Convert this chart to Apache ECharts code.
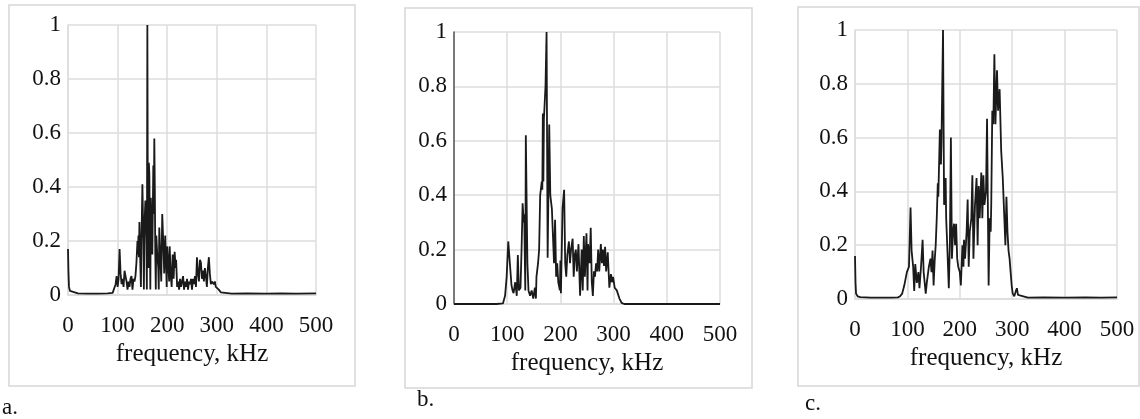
<!DOCTYPE html>
<html>
<head>
<meta charset="utf-8">
<script src="https://cdn.jsdelivr.net/npm/echarts@6/dist/echarts.min.js"></script>
<style>
  html, body { margin: 0; padding: 0; background: #fff; }
  #chart { width: 1140px; height: 419px; }
</style>
</head>
<body>
<div id="chart"></div>
<script>
// x ticks and y ticks shared by the three spectra
const freqTicks = [0, 100, 200, 300, 400, 500];
const ampTicks = [0, 0.2, 0.4, 0.6, 0.8, 1];
const panelLabels = ["a.", "b.", "c."];

// spectrum a: [frequency kHz, normalised amplitude]
const spectrumA = [
  [0, 0.17], [1, 0.08], [2, 0.03], [4, 0.015], [8, 0.01], [20, 0.006], [40, 0.005], [60, 0.005],
  [80, 0.006], [90, 0.008], [94, 0.015], [96, 0.04], [98, 0.07], [100, 0.03], [102, 0.06], [104, 0.17],
  [106, 0.08], [108, 0.04], [110, 0.06], [112, 0.03], [114, 0.09], [116, 0.07], [118, 0.05], [120, 0.02],
  [122, 0.05], [124, 0.03], [126, 0.06], [128, 0.07], [130, 0.02], [132, 0.06], [134, 0.05], [136, 0.07],
  [138, 0.12], [140, 0.2], [141, 0.15], [142, 0.22], [143, 0.14], [144, 0.27], [146, 0.1], [147, 0.03],
  [148, 0.2], [149, 0.3], [150, 0.41], [152, 0.2], [153, 0.02], [154, 0.25], [156, 0.35], [158, 0.2],
  [159, 0.02], [160, 1.0], [161, 0.3], [162, 0.1], [163, 0.49], [164, 0.45], [165, 0.25], [166, 0.02],
  [167, 0.36], [168, 0.3], [170, 0.15], [172, 0.48], [173, 0.3], [174, 0.58], [175, 0.4], [176, 0.15],
  [177, 0.02], [178, 0.22], [180, 0.15], [182, 0.1], [183, 0.02], [184, 0.25], [186, 0.15], [188, 0.05],
  [190, 0.3], [192, 0.2], [194, 0.08], [196, 0.22], [198, 0.1], [199, 0.03], [200, 0.18], [202, 0.12],
  [204, 0.05], [205, 0.18], [207, 0.08], [209, 0.03], [211, 0.15], [213, 0.06], [215, 0.16], [217, 0.1],
  [218, 0.13], [220, 0.03], [222, 0.05], [224, 0.02], [226, 0.06], [228, 0.03], [230, 0.05], [232, 0.07],
  [234, 0.02], [236, 0.05], [238, 0.03], [240, 0.06], [242, 0.02], [244, 0.05], [246, 0.04], [248, 0.06],
  [250, 0.02], [252, 0.06], [254, 0.04], [256, 0.07], [258, 0.03], [260, 0.14], [262, 0.08], [264, 0.05],
  [266, 0.13], [268, 0.12], [270, 0.06], [272, 0.09], [274, 0.05], [276, 0.1], [278, 0.07], [280, 0.03],
  [282, 0.1], [284, 0.14], [286, 0.08], [288, 0.04], [290, 0.05], [292, 0.05], [294, 0.04], [296, 0.05],
  [298, 0.03], [300, 0.03], [304, 0.02], [308, 0.01], [312, 0.006], [330, 0.005], [360, 0.006],
  [400, 0.005], [430, 0.006], [460, 0.005], [500, 0.006]
];

// spectrum b
const spectrumB = [
  [0, 0], [40, 0], [80, 0], [92, 0.002], [96, 0.03], [99, 0.1], [102, 0.23], [105, 0.15], [108, 0.07],
  [110, 0.05], [112, 0.04], [115, 0.08], [118, 0.03], [120, 0.18], [122, 0.05], [125, 0.06], [127, 0.2],
  [129, 0.37], [131, 0.3], [132, 0.33], [134, 0.05], [135, 0.62], [137, 0.3], [138, 0.15], [140, 0.05],
  [143, 0.03], [146, 0.05], [149, 0.02], [152, 0.06], [154, 0.02], [155, 0.1], [158, 0.15], [160, 0.2],
  [162, 0.4], [165, 0.45], [166, 0.42], [167, 0.7], [168, 0.45], [169, 0.68], [172, 0.8], [174, 1.0],
  [176, 0.17], [179, 0.66], [181, 0.4], [184, 0.35], [186, 0.25], [188, 0.15], [190, 0.31], [192, 0.1],
  [194, 0.15], [196, 0.08], [199, 0.05], [200, 0.16], [201, 0.04], [204, 0.35], [207, 0.42], [209, 0.15],
  [211, 0.1], [213, 0.18], [216, 0.23], [218, 0.15], [220, 0.2], [223, 0.24], [225, 0.1], [227, 0.18],
  [229, 0.2], [231, 0.12], [234, 0.22], [237, 0.03], [240, 0.2], [242, 0.05], [244, 0.25], [246, 0.1],
  [249, 0.26], [251, 0.05], [252, 0.22], [255, 0.15], [257, 0.28], [259, 0.08], [261, 0.03], [263, 0.12],
  [265, 0.1], [267, 0.15], [269, 0.12], [271, 0.2], [273, 0.12], [276, 0.22], [278, 0.15], [280, 0.2],
  [282, 0.14], [284, 0.21], [286, 0.12], [289, 0.19], [292, 0.06], [295, 0.11], [297, 0.08], [299, 0.1],
  [302, 0.06], [306, 0.05], [311, 0.02], [315, 0.004], [320, 0], [400, 0], [500, 0]
];

// spectrum c
const spectrumC = [
  [0, 0.16], [1, 0.06], [2, 0.02], [5, 0.01], [10, 0.007], [30, 0.005], [50, 0.005], [70, 0.005],
  [82, 0.006], [86, 0.01], [90, 0.02], [94, 0.05], [99, 0.1], [103, 0.12], [106, 0.34], [108, 0.18],
  [111, 0.12], [113, 0.03], [115, 0.13], [118, 0.06], [121, 0.1], [123, 0.04], [126, 0.12], [129, 0.22],
  [131, 0.1], [135, 0.02], [137, 0.06], [141, 0.12], [144, 0.15], [146, 0.1], [148, 0.18], [150, 0.05],
  [152, 0.14], [154, 0.2], [156, 0.3], [158, 0.43], [159, 0.38], [162, 0.63], [164, 0.5], [165, 0.58],
  [168, 1.0], [170, 0.35], [173, 0.45], [174, 0.3], [176, 0.2], [179, 0.04], [181, 0.2], [183, 0.6],
  [185, 0.15], [187, 0.25], [189, 0.28], [191, 0.2], [193, 0.28], [195, 0.15], [197, 0.12], [200, 0.1],
  [202, 0.05], [205, 0.2], [207, 0.12], [208, 0.22], [210, 0.15], [213, 0.25], [215, 0.37], [217, 0.12],
  [219, 0.25], [222, 0.3], [224, 0.46], [226, 0.15], [229, 0.35], [232, 0.45], [234, 0.2], [236, 0.42],
  [238, 0.3], [241, 0.47], [243, 0.3], [245, 0.46], [247, 0.35], [250, 0.4], [252, 0.67], [255, 0.05],
  [257, 0.3], [259, 0.25], [260, 0.35], [262, 0.7], [264, 0.65], [266, 0.91], [268, 0.65], [271, 0.85],
  [273, 0.7], [276, 0.78], [279, 0.55], [282, 0.45], [285, 0.3], [287, 0.2], [289, 0.38], [291, 0.25],
  [293, 0.18], [295, 0.15], [297, 0.1], [299, 0.05], [301, 0.02], [304, 0.01], [307, 0.03], [309, 0.04],
  [311, 0.015], [313, 0.008], [330, 0.005], [360, 0.006], [400, 0.005], [440, 0.006], [470, 0.005],
  [500, 0.006]
];

const spectra = [spectrumA, spectrumB, spectrumC];

const grids = [
  { left: 68, top: 25, width: 248, height: 270 },
  { left: 454, top: 32, width: 266, height: 272 },
  { left: 855, top: 30, width: 262, height: 269 }
];
const frames = [
  { x: 9, y: 5, width: 346, height: 381 },
  { x: 405, y: 8, width: 347, height: 380 },
  { x: 798, y: 7, width: 341, height: 379 }
];
const letterPos = [[2, 408], [417, 400], [805, 404]];

const serif = "'Liberation Serif', 'DejaVu Serif', serif";
const gridColor = "#dcdcdc";
const inkColor = "#111";

const chart = echarts.init(document.getElementById("chart"));

const option = {
  animation: false,
  backgroundColor: "#fff",
  textStyle: { fontFamily: serif },
  grid: grids,
  xAxis: grids.map((g, i) => ({
    type: "value",
    gridIndex: i,
    min: freqTicks[0],
    max: freqTicks[freqTicks.length - 1],
    interval: 100,
    name: "frequency, kHz",
    nameLocation: "middle",
    nameGap: 47,
    nameTextStyle: { fontFamily: serif, fontSize: 25, color: inkColor },
    axisLine: { show: true, lineStyle: { color: gridColor, width: 1.5 } },
    axisTick: { show: false },
    axisLabel: { fontFamily: serif, fontSize: 23, color: inkColor, margin: 19 },
    splitLine: { show: true, lineStyle: { color: gridColor, width: 1.5 } }
  })),
  yAxis: grids.map((g, i) => ({
    type: "value",
    gridIndex: i,
    min: ampTicks[0],
    max: ampTicks[ampTicks.length - 1],
    interval: 0.2,
    axisLine: {
      show: true,
      lineStyle: { color: i === 1 ? "#555" : gridColor, width: 1.5 }
    },
    axisTick: { show: false },
    axisLabel: { fontFamily: serif, fontSize: 23, color: inkColor, margin: 7 },
    splitLine: { show: true, lineStyle: { color: gridColor, width: 1.5 } }
  })),
  series: spectra.map((data, i) => ({
    type: "line",
    xAxisIndex: i,
    yAxisIndex: i,
    data: data,
    showSymbol: false,
    lineStyle: { color: "#1a1a1a", width: 1.8 },
    z: 3
  })),
  graphic: frames.map((f) => ({
    type: "rect",
    shape: f,
    style: { fill: "none", stroke: "#d6d6d6", lineWidth: 1.5 },
    silent: true,
    z: -1
  })).concat(panelLabels.map((t, i) => ({
    type: "text",
    x: letterPos[i][0],
    y: letterPos[i][1],
    style: {
      text: t,
      font: "23px " + serif,
      fill: inkColor,
      textVerticalAlign: "middle"
    }
  })))
};

chart.setOption(option);
window.addEventListener("resize", () => chart.resize());
</script>
</body>
</html>
